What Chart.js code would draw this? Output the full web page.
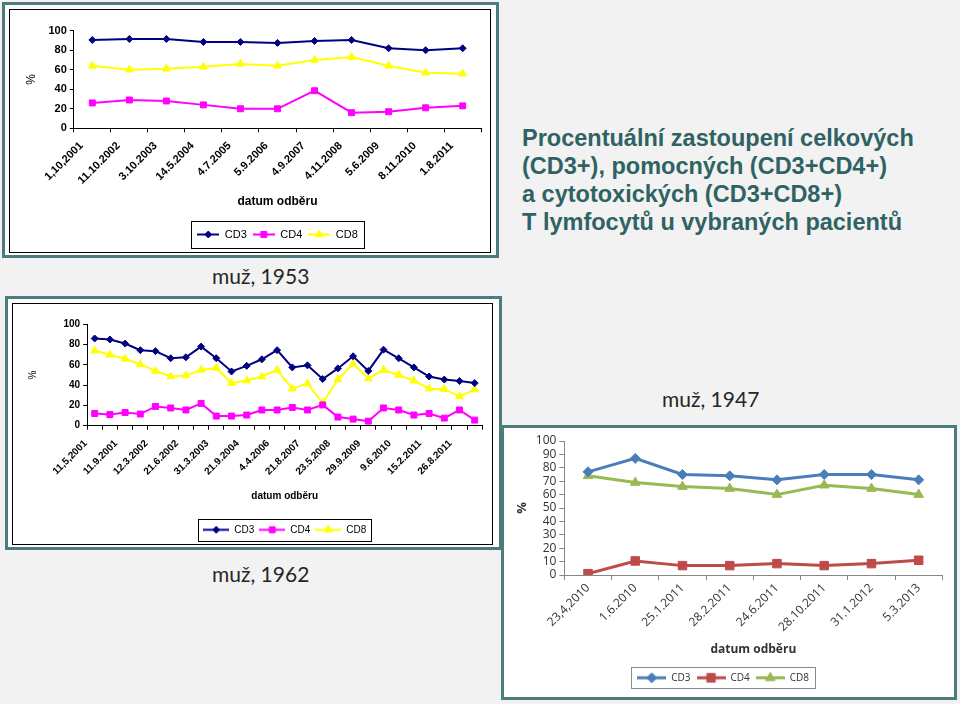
<!DOCTYPE html>
<html>
<head>
<meta charset="utf-8">
<title>CD3 CD4 CD8</title>
<script src="https://cdn.jsdelivr.net/npm/chart.js@4.4.1/dist/chart.umd.min.js"></script>
<style>
  body { margin: 0; width: 960px; height: 704px; background: #f2f2f2; position: relative; overflow: hidden; }
  .frame { position: absolute; box-sizing: border-box; border: 3px solid #4b7d7d; background: #fff; }
  .rule { position: absolute; box-sizing: border-box; border: 1px solid #000; }
  canvas { position: absolute; }
  #heading { position: absolute; left: 522px; top: 124px; font: bold 23.5px/28px "Liberation Sans", Arial, sans-serif; color: #2f6363; white-space: nowrap; }
  .who { position: absolute; font: 21px/21px Lato, sans-serif; color: #262626; white-space: nowrap; }
</style>
</head>
<body>
<div class="frame" style="left:2px;top:2px;width:497px;height:256px"></div>
<div class="rule" style="left:9px;top:9px;width:482px;height:244px"></div>
<canvas id="c1953" width="480" height="242" style="left:10px;top:10px"></canvas>

<div class="frame" style="left:5px;top:296px;width:497px;height:254px"></div>
<div class="rule" style="left:12px;top:303px;width:481px;height:242px"></div>
<canvas id="c1962" width="479" height="244" style="left:13px;top:304px"></canvas>

<div class="frame" style="left:501px;top:425px;width:456px;height:275px"></div>
<canvas id="c1947" width="450" height="269" style="left:504px;top:428px"></canvas>

<div id="heading">Procentuální zastoupení celkových<br>(CD3+), pomocných (CD3+CD4+)<br>a cytotoxických (CD3+CD8+)<br>T lymfocytů u vybraných pacientů</div>
<div class="who" style="left:212px;top:265px">muž, 1953</div>
<div class="who" style="left:212px;top:563px">muž, 1962</div>
<div class="who" style="left:662px;top:388px">muž, 1947</div>

<script>
// values

// muž, 1953
var labels1953 = ["1,10,2001", "11.10.2002", "3.10.2003", "14.5.2004", "4.7.2005", "5.9.2006",
	"4.9.2007", "4.11.2008", "5.6.2009", "8.11.2010", "1.8.2011"];
var cd3_1953 = [90.5, 91.5, 91.5, 88.5, 88.5, 87.5, 89.5, 90.5, 82, 80, 82];
var cd4_1953 = [26, 29, 28, 24, 20, 20, 38.5, 16, 17, 21, 23];
var cd8_1953 = [64, 60, 61, 63, 66, 64, 70, 73, 64, 57, 56];

// muž, 1962 (only every second date is labelled in the original)
var labels1962 = ["11,5,2001", "", "11.9.2001", "", "12.3.2002", "", "21.6.2002", "", "31.3.2003", "",
	"21.9.2004", "", "4.4.2006", "", "21.8.2007", "", "23.5.2008", "", "29.9.2009", "",
	"9.6.2010", "", "15.2.2011", "", "26.8.2011", ""];
var cd3_1962 = [86, 85, 81, 74.5, 73.5, 66.5, 67.5, 78, 66.5, 53.5, 59, 65.5, 74.5,
	57.5, 59.5, 46, 56.5, 68.5, 54, 75, 66.5, 57.5, 48.5, 45.5, 44, 42];
var cd4_1962 = [12, 11, 13, 11.5, 19, 17.5, 15.5, 22, 9.5, 9.5, 10.5, 15.5, 15.5,
	18, 15.5, 20.5, 8.5, 6.5, 4.5, 17.5, 15.5, 10.5, 12, 7.5, 15.5, 5.5];
var cd8_1962 = [74, 70, 66, 60.5, 54, 48.5, 49.5, 55, 57, 42, 44.5, 48.5, 55,
	36.5, 41.5, 22.5, 45.5, 61, 46.5, 55, 50, 44.5, 36.5, 36, 29, 35.5];

// muž, 1947
var labels1947 = ["23,4,2010", "1.6.2010", "25.1.2011", "28.2.2011", "24.6.2011", "28.10.2011", "31.1.2012", "5.3.2013"];
var cd3_1947 = [77, 87, 75, 74, 71, 75, 75, 71];
var cd4_1947 = [1, 10.5, 7, 7, 8.5, 7, 8.5, 11];
var cd8_1947 = [74, 69, 66, 64.5, 60, 67, 64.5, 60];

var yTicks20 = [0, 20, 40, 60, 80, 100];
var yTicks10 = [0, 10, 20, 30, 40, 50, 60, 70, 80, 90, 100];

Chart.defaults.font.family = '"Liberation Sans", Arial, sans-serif';
Chart.defaults.color = "#000";

// same geometry as chart.js point styles, so the legend key matches the markers
function shapePath(g, shape, x, y, r) {
	g.beginPath();
	if (shape === "rectRot") {
		g.moveTo(x - r, y); g.lineTo(x, y - r); g.lineTo(x + r, y); g.lineTo(x, y + r);
	} else if (shape === "rect") {
		var h = r * Math.SQRT1_2;
		g.rect(x - h, y - h, 2 * h, 2 * h);
	} else {
		for (var k = 0; k < 3; k++) {
			var a = k * 2 * Math.PI / 3;
			if (k === 0) g.moveTo(x + Math.sin(a) * r, y - Math.cos(a) * r);
			else g.lineTo(x + Math.sin(a) * r, y - Math.cos(a) * r);
		}
	}
	g.closePath();
}

// legend key: a short line with the marker in the middle (excel style)
function markerKey(color, shape, r, lineW, len) {
	var c = document.createElement("canvas");
	c.width = len;
	c.height = Math.ceil(r * 2 + 4);
	var g = c.getContext("2d");
	var mid = c.height / 2;
	g.strokeStyle = color;
	g.fillStyle = color;
	g.lineWidth = lineW;
	g.beginPath(); g.moveTo(0, mid); g.lineTo(len, mid); g.stroke();
	g.lineWidth = 1;
	shapePath(g, shape, len / 2, mid, r);
	g.fill(); g.stroke();
	return c;
}

// box around the legend items
var legendFrame = {
	id: "legendFrame",
	afterDraw: function (chart, args, opts) {
		var boxes = chart.legend && chart.legend.legendHitBoxes;
		if (!boxes || !boxes.length) return;
		var last = boxes[boxes.length - 1];
		var l = boxes[0].left - opts.padX;
		var r = last.left + last.width + opts.padX;
		var cy = boxes[0].top + boxes[0].height / 2;
		var ctx = chart.ctx;
		ctx.save();
		ctx.strokeStyle = opts.color;
		ctx.lineWidth = 1;
		ctx.strokeRect(Math.round(l) + 0.5, Math.round(cy - opts.h / 2) + 0.5, Math.round(r - l), Math.round(opts.h));
		ctx.restore();
	}
};

function drawLines(id, s) {
	var canvas = document.getElementById(id);
	var lh = s.titleFont.size * 1.2;
	var legTop = s.legendY - s.legendPad - s.legendFont.size / 2;
	var legH = s.legendFont.size + s.legendPad + 10;

	var datasets = s.series.map(function (d) {
		return {
			label: d.name,
			data: d.values,
			borderColor: d.color,
			backgroundColor: d.color,
			borderWidth: s.lineWidth,
			pointStyle: d.shape,
			pointRadius: d.r,
			pointHoverRadius: d.r,
			pointBorderWidth: 1,
			pointBackgroundColor: d.color,
			pointBorderColor: d.color,
			tension: 0
		};
	});

	return new Chart(canvas, {
		type: "line",
		data: { labels: s.labels, datasets: datasets },
		plugins: [legendFrame],
		options: {
			responsive: false,
			animation: false,
			events: [],
			layout: {
				padding: { left: 0, top: s.plot.top, right: canvas.width - s.plot.right, bottom: canvas.height - legTop - legH }
			},
			scales: {
				x: {
					type: "category",
					offset: true,
					grid: { offset: true, drawOnChartArea: false, drawTicks: true, tickLength: s.tickLen, color: s.axisColor },
					border: { display: true, color: s.axisColor },
					ticks: {
						autoSkip: false, maxRotation: 45, minRotation: 45,
						font: s.tickFont, color: s.tickColor, padding: s.labelPad, labelOffset: s.labelShift
					},
					title: {
						display: true, text: "datum odběru", font: s.titleFont, color: s.tickColor,
						padding: { top: 0, bottom: legTop - s.xTitleY - lh / 2 }
					},
					afterFit: function (sc) { sc.height = legTop - s.plot.bottom; }
				},
				y: {
					min: 0,
					max: 100,
					grid: { drawOnChartArea: false, drawTicks: true, tickLength: s.tickLen, color: s.axisColor },
					border: { display: true, color: s.axisColor },
					ticks: { autoSkip: false, font: s.tickFont, color: s.tickColor, padding: 3 },
					afterBuildTicks: function (sc) {
						sc.ticks = s.yTicks.map(function (v) { return { value: v }; });
					},
					title: {
						display: true, text: "%", font: s.yTitleFont, color: s.tickColor,
						padding: { top: s.yTitleX - s.yTitleFont.size * 0.6, bottom: 0 }
					},
					afterFit: function (sc) { sc.width = s.plot.left; }
				}
			},
			plugins: {
				legend: {
					position: "bottom",
					fullSize: s.legendFull,
					labels: {
						usePointStyle: true,
						pointStyleWidth: s.keyLen,
						font: s.legendFont,
						color: s.tickColor,
						padding: s.legendPad,
						generateLabels: function (chart) {
							var items = Chart.defaults.plugins.legend.labels.generateLabels(chart);
							items.forEach(function (it, i) {
								var d = s.series[i];
								it.pointStyle = markerKey(d.color, d.shape, d.r, s.lineWidth, s.keyLen);
							});
							return items;
						}
					}
				},
				legendFrame: { padX: s.frameX, h: s.frameH, color: s.frameColor },
				tooltip: { enabled: false }
			}
		}
	});
}

drawLines("c1953", {
	labels: labels1953, yTicks: yTicks20,
	series: [
		{ name: "CD3", values: cd3_1953, color: "#000080", shape: "rectRot", r: 3.5 },
		{ name: "CD4", values: cd4_1953, color: "#ff00ff", shape: "rect", r: 4.2 },
		{ name: "CD8", values: cd8_1953, color: "#ffff00", shape: "triangle", r: 4.5 }
	],
	plot: { left: 63.8, right: 471.2, top: 20.7, bottom: 118.3 },
	yTitleX: 21.7, xTitleY: 192, legendY: 224.5, legendPad: 6, keyLen: 22,
	frameX: 6, frameH: 27, frameColor: "#000", legendFull: false,
	lineWidth: 2, tickLen: 4, labelPad: 7, labelShift: -11,
	tickFont: { size: 11, weight: "bold" }, titleFont: { size: 12, weight: "bold" },
	yTitleFont: { size: 12 }, legendFont: { size: 11 },
	tickColor: "#000", axisColor: "#000"
});

drawLines("c1962", {
	labels: labels1962, yTicks: yTicks20,
	series: [
		{ name: "CD3", values: cd3_1962, color: "#000080", shape: "rectRot", r: 3.5 },
		{ name: "CD4", values: cd4_1962, color: "#ff00ff", shape: "rect", r: 4.2 },
		{ name: "CD8", values: cd8_1962, color: "#ffff00", shape: "triangle", r: 4.5 }
	],
	plot: { left: 74.1, right: 469.3, top: 20.3, bottom: 121.7 },
	yTitleX: 20.3, xTitleY: 192, legendY: 225.8, legendPad: 5, keyLen: 26,
	frameX: 5, frameH: 22, frameColor: "#000", legendFull: false,
	lineWidth: 2, tickLen: 4, labelPad: 8, labelShift: -9,
	tickFont: { size: 10, weight: "bold" }, titleFont: { size: 10, weight: "bold" },
	yTitleFont: { size: 10 }, legendFont: { size: 10 },
	tickColor: "#000", axisColor: "#000"
});

drawLines("c1947", {
	labels: labels1947, yTicks: yTicks10,
	series: [
		{ name: "CD3", values: cd3_1947, color: "#4a7ebb", shape: "rectRot", r: 5 },
		{ name: "CD4", values: cd4_1947, color: "#be4b48", shape: "rect", r: 6 },
		{ name: "CD8", values: cd8_1947, color: "#98b954", shape: "triangle", r: 5.5 }
	],
	plot: { left: 60.4, right: 438.3, top: 13, bottom: 147 },
	yTitleX: 18.7, xTitleY: 221.3, legendY: 249.8, legendPad: 6, keyLen: 29,
	frameX: 6, frameH: 21, frameColor: "#8a8a8a", legendFull: true,
	lineWidth: 3, tickLen: 5, labelPad: 1, labelShift: 0,
	tickFont: { family: '"Open Sans", sans-serif', size: 12 },
	titleFont: { family: '"Open Sans", sans-serif', size: 12, weight: "bold" },
	yTitleFont: { family: '"Open Sans", sans-serif', size: 13, weight: "bold" },
	legendFont: { family: '"Open Sans", sans-serif', size: 10 },
	tickColor: "#333", axisColor: "#868686"
});
</script>
</body>
</html>
